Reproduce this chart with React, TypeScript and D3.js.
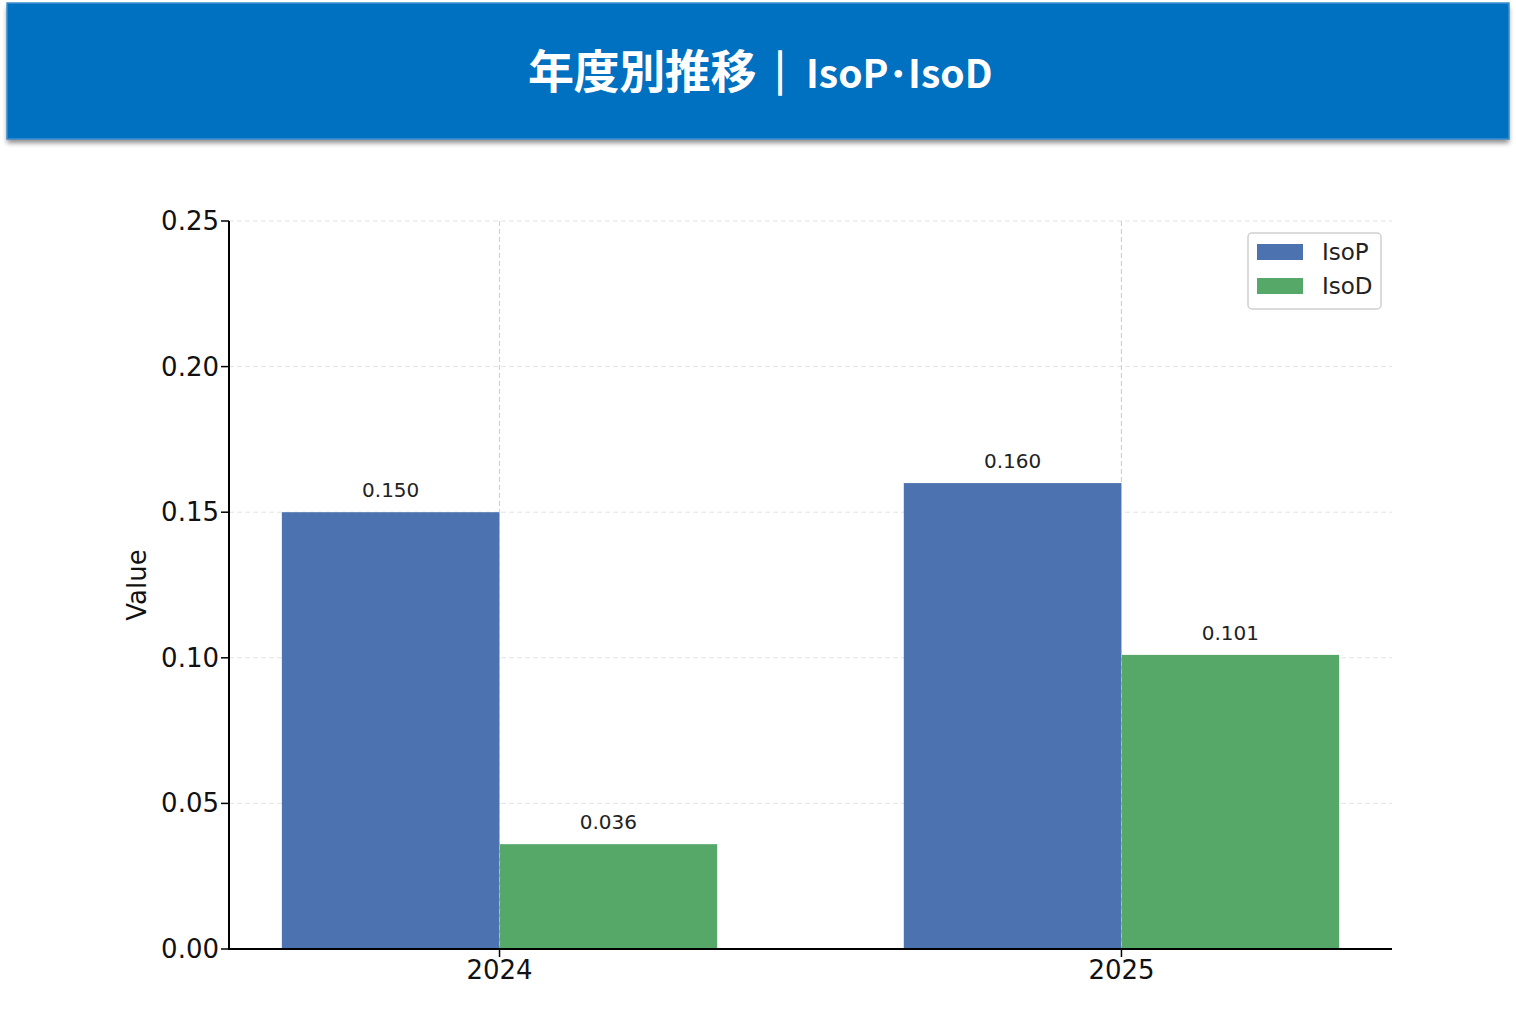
import React from "react";
import * as d3 from "d3";

const categories = ["2024", "2025"];
const seriesNames = ["IsoP", "IsoD"];
const isoP = [0.15, 0.16];
const isoD = [0.036, 0.101];
const yTicks = [0, 0.05, 0.1, 0.15, 0.2, 0.25];
const colors = ["#4C72B0", "#55A868"];
const titleJa = "年度別推移";
const titleSep = "｜";
const titleEn = "IsoP･IsoD";

const W = 1516;
const H = 1010;
const left = 229;
const right = 1392;
const top = 221;
const bottom = 949;
const barW = 0.35;

export default function App() {
  const x = d3.scaleLinear().domain([-0.435, 1.435]).range([left, right]);
  const y = d3.scaleLinear().domain([0, 0.25]).range([bottom, top]);
  const series = [isoP, isoD];
  const tickFont = "DejaVu Sans";
  const jp = "'Noto Sans CJK JP', 'Noto Sans', sans-serif";

  return (
    <div style={{ position: "fixed", left: 0, top: 0, width: W, height: H, background: "#fff" }}>
      <svg width={W} height={H} style={{ display: "block" }}>
        <defs>
          <filter id="sh" x="-5%" y="-20%" width="110%" height="150%">
            <feGaussianBlur in="SourceAlpha" stdDeviation="2.5" />
            <feOffset dx="0" dy="4" result="b" />
            <feComponentTransfer>
              <feFuncA type="linear" slope="0.45" />
            </feComponentTransfer>
            <feMerge>
              <feMergeNode />
              <feMergeNode in="SourceGraphic" />
            </feMerge>
          </filter>
        </defs>
        <rect x={7} y={3} width={1502} height={136} fill="#0070C0" filter="url(#sh)" />
        <rect x={7} y={3} width={1502} height={136} fill="none" stroke="#3d8fd0" strokeWidth={1.5} />
        <text y={88} fill="#fff" fontFamily={jp} fontWeight="bold">
          <tspan x={528} fontSize={46} letterSpacing={-0.4}>{titleJa}</tspan>
          <tspan x={780} fontSize={44} fontWeight="900" stroke="#fff" strokeWidth={1.5} textAnchor="middle" dy={2}>{titleSep}</tspan>
          <tspan x={806} fontSize={39} stroke="none" textAnchor="start" dy={-2}>{titleEn}</tspan>
        </text>

        {/* grid */}
        {yTicks.map((t) => (
          <line key={"g" + t} x1={left} x2={right} y1={y(t)} y2={y(t)} stroke="#e3e3e3" strokeWidth={1} strokeDasharray="5,3" />
        ))}
        {categories.map((c, i) => (
          <line key={"gv" + c} x1={x(i)} x2={x(i)} y1={top} y2={bottom} stroke="#cfcfcf" strokeWidth={1} strokeDasharray="5,3" />
        ))}

        {/* bars */}
        {series.map((vals, s) =>
          vals.map((v, i) => {
            const x0 = x(i + (s === 0 ? -barW : 0));
            const x1 = x(i + (s === 0 ? 0 : barW));
            return (
              <g key={s + "-" + i}>
                <rect x={x0} y={y(v)} width={x1 - x0} height={bottom - y(v)} fill={colors[s]} />
                <text x={(x0 + x1) / 2} y={y(v) - 15} textAnchor="middle" fontFamily={tickFont} fontSize={20} fill="#222">
                  {v.toFixed(3)}
                </text>
              </g>
            );
          })
        )}
        {categories.map((c, i) => (
          <line key={"gv2" + c} x1={x(i)} x2={x(i)} y1={top} y2={bottom} stroke="#cfcfcf" strokeOpacity={0.6} strokeWidth={1} strokeDasharray="5,3" />
        ))}

        {/* axes */}
        <line x1={left} x2={left} y1={top} y2={bottom + 1} stroke="#000" strokeWidth={2} />
        <line x1={left - 1} x2={right} y1={bottom} y2={bottom} stroke="#000" strokeWidth={2} />
        {yTicks.map((t) => (
          <g key={"yt" + t}>
            <line x1={left - 8} x2={left} y1={y(t)} y2={y(t)} stroke="#000" strokeWidth={1.5} />
            <text x={left - 10} y={y(t) + 9} textAnchor="end" fontFamily={tickFont} fontSize={26} fill="#111">
              {t.toFixed(2)}
            </text>
          </g>
        ))}
        {categories.map((c, i) => (
          <g key={"xt" + c}>
            <line x1={x(i)} x2={x(i)} y1={bottom} y2={bottom + 8} stroke="#000" strokeWidth={1.5} />
            <text x={x(i)} y={bottom + 30} textAnchor="middle" fontFamily={tickFont} fontSize={26} fill="#111">
              {c}
            </text>
          </g>
        ))}
        <text
          transform={`translate(146, ${(top + bottom) / 2}) rotate(-90)`}
          textAnchor="middle"
          fontFamily={tickFont}
          fontSize={26}
          fill="#111"
        >
          Value
        </text>

        {/* legend */}
        <rect x={1248} y={233} width={133} height={76} rx={4} fill="#fff" fillOpacity={0.85} stroke="#d0d0d0" strokeWidth={1.5} />
        {seriesNames.map((n, s) => (
          <g key={"lg" + n}>
            <rect x={1257} y={244 + s * 34} width={46} height={16} fill={colors[s]} />
            <text x={1322} y={260 + s * 34} fontFamily={tickFont} fontSize={23} fill="#222">
              {n}
            </text>
          </g>
        ))}
      </svg>
    </div>
  );
}
